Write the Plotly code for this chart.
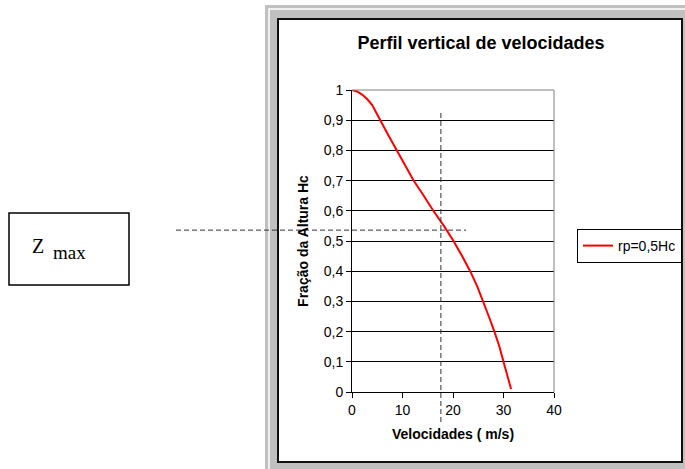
import plotly.graph_objects as go

# Perfil vertical de velocidades
fracao_altura = [1.0, 0.995, 0.985, 0.97, 0.95, 0.93, 0.9, 0.85, 0.8, 0.75, 0.7, 0.65, 0.6,
                 0.55, 0.5, 0.45, 0.4, 0.35, 0.3, 0.25, 0.2, 0.15, 0.1, 0.05, 0.01]
velocidades = [0.0, 1.0, 2.0, 3.0, 4.0, 4.7, 5.6, 7.2, 8.9, 10.6, 12.2, 14.2, 16.1,
               18.2, 20.1, 21.8, 23.4, 24.8, 26.0, 27.1, 28.2, 29.2, 30.0, 30.8, 31.5]
z_max = 0.536      # fracao da altura no ponto marcado
v_zmax = 17.6      # velocidade marcada
serie_nome = "rp=0,5Hc"

FONT = "Arial, Liberation Sans, sans-serif"
W, H = 685, 469
L, R, T, B = 352, 554, 90, 392   # plot area in pixels

def px(x):  # pixel -> paper x
    return (x - L) / (R - L)

def py(y):  # pixel -> paper y
    return (B - y) / (B - T)

fig = go.Figure()
fig.add_trace(go.Scatter(x=velocidades, y=fracao_altura, mode="lines", name=serie_nome,
                         line=dict(color="#ff0000", width=2)))

shapes = [
    # grey window frame
    dict(type="rect", xref="paper", yref="paper", x0=px(265), x1=px(700), y0=py(480), y1=py(5),
         fillcolor="#c0c0c0", line=dict(width=0), layer="below"),
    dict(type="rect", xref="paper", yref="paper", x0=px(269), x1=px(700), y0=py(480), y1=py(9),
         line=dict(color="white", width=1.5), layer="below"),
    # chart area
    dict(type="rect", xref="paper", yref="paper", x0=px(278), x1=px(682), y0=py(462), y1=py(19),
         fillcolor="white", line=dict(color="#111111", width=2), layer="below"),
    # plot area border top/right
    dict(type="line", xref="paper", yref="paper", x0=0, x1=1, y0=1, y1=1,
         line=dict(color="#808080", width=1)),
    dict(type="line", xref="paper", yref="paper", x0=1, x1=1, y0=0, y1=1,
         line=dict(color="#808080", width=1)),
    # dashed marker lines
    dict(type="line", xref="x", yref="paper", x0=v_zmax, x1=v_zmax, y0=py(422), y1=py(112),
         line=dict(color="#333333", width=1, dash="5px,3px")),
    dict(type="line", xref="paper", yref="y", x0=px(176), x1=px(466), y0=z_max, y1=z_max,
         line=dict(color="#333333", width=1, dash="5px,3px")),
    # Z max box
    dict(type="rect", xref="paper", yref="paper", x0=px(9), x1=px(129), y0=py(285), y1=py(213),
         line=dict(color="black", width=1.5)),
]

annotations = [
    dict(text="Z", xref="paper", yref="paper", x=px(30), y=py(246), xanchor="left", yanchor="middle",
         showarrow=False, font=dict(family="Liberation Serif, Times New Roman, serif", size=20, color="black")),
    dict(text="max", xref="paper", yref="paper", x=px(51), y=py(252), xanchor="left", yanchor="middle",
         showarrow=False, font=dict(family="Liberation Serif, Times New Roman, serif", size=19, color="black")),
]

fig.update_layout(
    width=W, height=H,
    margin=dict(l=L, r=W - R, t=T, b=H - B, autoexpand=False),
    paper_bgcolor="white", plot_bgcolor="#ffffc0",
    separators=",.",
    font=dict(family=FONT, size=14, color="black"),
    title=dict(text="Perfil vertical de velocidades", xref="paper", x=px(481), xanchor="center",
               yref="container", y=1 - 43 / H, yanchor="middle",
               font=dict(family=FONT, size=18, color="black", weight="bold")),
    showlegend=True,
    legend=dict(x=px(577), y=py(229), xanchor="left", yanchor="top", bgcolor="white",
                bordercolor="black", borderwidth=1, font=dict(family=FONT, size=14, color="black"),
                itemwidth=30),
    shapes=shapes,
    annotations=annotations,
)
fig.update_xaxes(range=[0, 40], dtick=10, showgrid=False, zeroline=False,
                 showline=True, linecolor="black", linewidth=1,
                 ticks="outside", ticklen=5, tickcolor="black",
                 title=dict(text="Velocidades ( m/s)", standoff=12,
                            font=dict(family=FONT, size=14, color="black", weight="bold")))
fig.update_yaxes(range=[0, 1], dtick=0.1, showgrid=True, gridcolor="black", gridwidth=1,
                 zeroline=False, showline=True, linecolor="black", linewidth=1,
                 ticks="outside", ticklen=5, tickcolor="black",
                 title=dict(text="Fração da Altura Hc", standoff=11,
                            font=dict(family=FONT, size=14, color="black", weight="bold")))

# the page body has an 8px default margin; drop it so the figure sits at (0, 0)
fig.write_html("out.html", config={"displayModeBar": False},
               post_script="document.body.style.margin='0';")
